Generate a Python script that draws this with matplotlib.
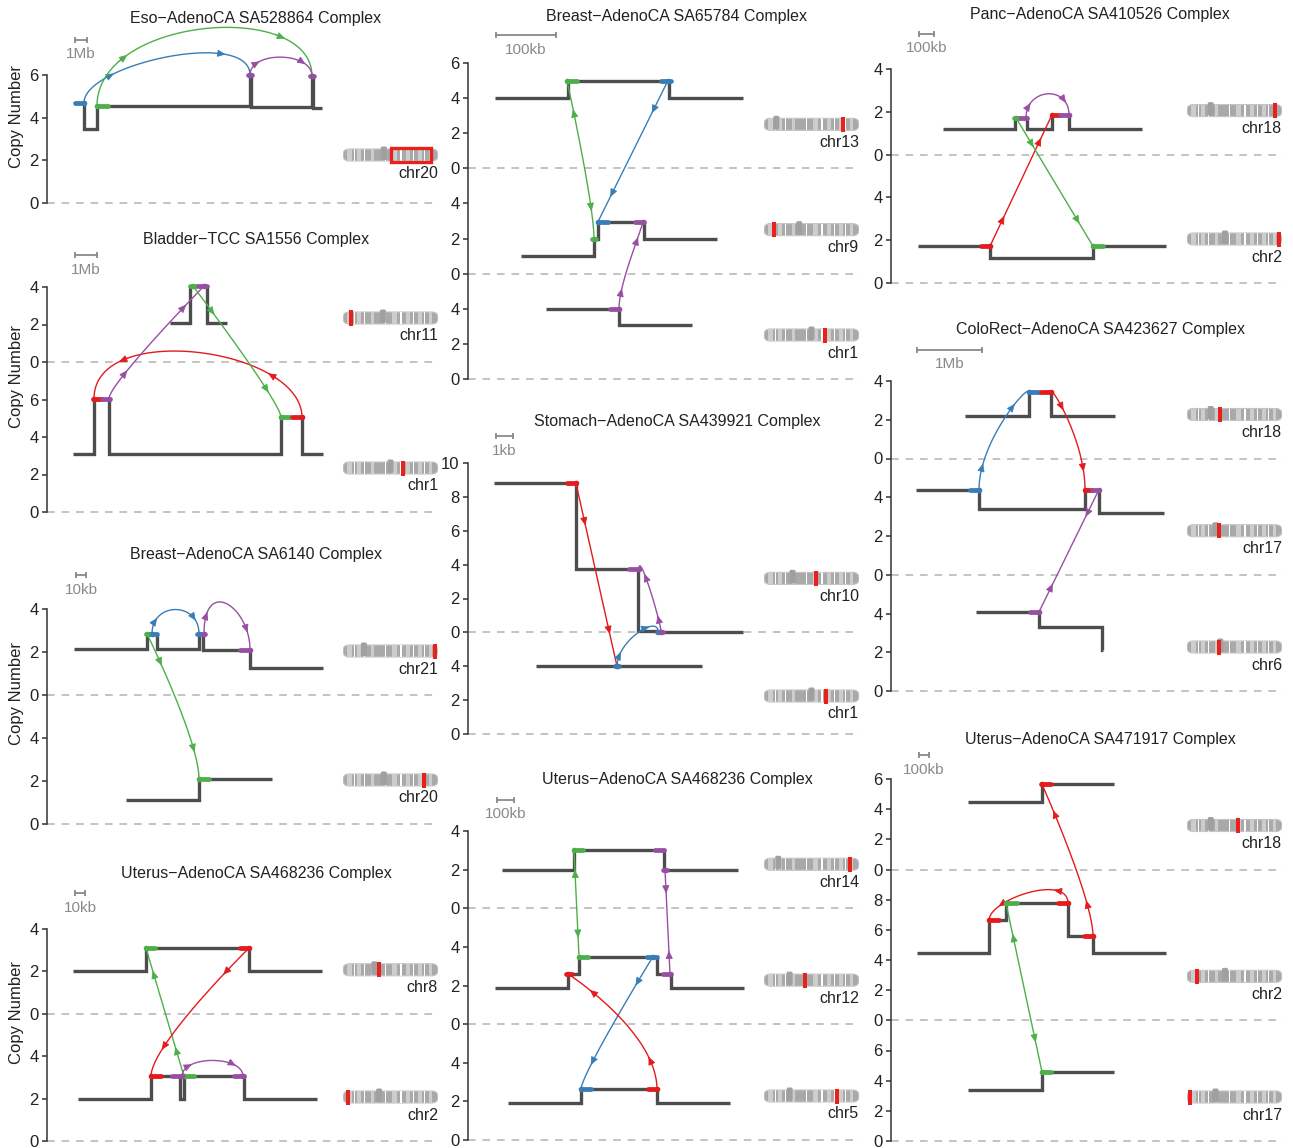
import numpy as np
import matplotlib.pyplot as plt
from matplotlib.patches import FancyBboxPatch, Rectangle, FancyArrowPatch

plt.rcParams['font.family'] = ['Liberation Sans', 'DejaVu Sans']

W, H = 1293, 1148
COLORS = {'r': '#e41a1c', 'b': '#377eb8', 'g': '#4daf4a', 'p': '#984ea3'}
STEP = '#4d4d4d'

# ---------------- copy-number segments: boundaries (x) and copy number (cn) ----------------
# Eso-AdenoCA SA528864
eso_chr20_x = [28, 37, 50, 203, 204, 265, 266, 275]
eso_chr20_cn = [4.7, 3.45, 4.55, 6.0, 4.5, 5.95, 4.45]
eso_marks = [('chr20', 28, 37, 4.7, 'b'), ('chr20', 50, 61, 4.55, 'g'),
             ('chr20', 201, 205, 6.0, 'p'), ('chr20', 263, 267, 5.95, 'p')]
eso_links = [('chr20', 37, 4.7, 'chr20', 203, 6.0, 'b', 1.8, 2.2, (1, 1)),
             ('chr20', 50, 4.55, 'chr20', 265, 5.95, 'g', 4.2, 3.6, (1, 1)),
             ('chr20', 203, 6.0, 'chr20', 265, 5.95, 'p', 1.15, 1.15, (1, 1))]

# Bladder-TCC SA1556
bla_chr11_x = [123, 143, 160, 180]
bla_chr11_cn = [2.1, 4.05, 2.1]
bla_chr1_x = [26, 47, 62, 234, 255, 276]
bla_chr1_cn = [3.1, 6.05, 3.1, 5.05, 3.1]
bla_marks = [('chr11', 143, 150, 4.05, 'g'), ('chr11', 151, 160, 4.05, 'p'),
             ('chr1', 46, 55, 6.05, 'r'), ('chr1', 55, 63, 6.05, 'p'),
             ('chr1', 234, 243, 5.05, 'g'), ('chr1', 245, 255, 5.05, 'r')]
bla_links = [('chr1', 255, 5.05, 'chr1', 47, 6.05, 'r', 3.7, 4.2, (1, 1)),
             ('chr1', 62, 6.05, 'chr11', 157, 4.05, 'p', 0.8, 0.0, (1, 1)),
             ('chr11', 146, 4.05, 'chr1', 234, 5.05, 'g', 0.0, 0.8, (1, 1))]

# Breast-AdenoCA SA6140
b61_chr21_x = [27, 100, 110, 152, 156, 203, 276]
b61_chr21_cn = [2.15, 2.85, 2.15, 2.85, 2.1, 1.26]
b61_chr20_x = [79, 152, 225]
b61_chr20_cn = [1.12, 2.1]
b61_marks = [('chr21', 99, 102, 2.85, 'g'), ('chr21', 103, 110, 2.85, 'b'),
             ('chr21', 150, 153, 2.85, 'b'), ('chr21', 153, 158, 2.85, 'p'),
             ('chr21', 193, 203, 2.1, 'p'), ('chr20', 152, 162, 2.1, 'g')]
b61_links = [('chr21', 105, 2.85, 'chr21', 152, 2.85, 'b', 1.5, 1.5, (1, 1)),
             ('chr21', 157, 2.85, 'chr21', 203, 2.1, 'p', 2.7, 2.0, (1, 1)),
             ('chr21', 100, 2.85, 'chr20', 152, 2.1, 'g', 0.0, 1.8, (1, 1))]

# Uterus-AdenoCA SA468236 (10kb view)
u10_chr8_x = [26, 99, 202, 275]
u10_chr8_cn = [2.0, 3.1, 2.0]
u10_chr2_x = [31, 104, 133, 137, 197, 270]
u10_chr2_cn = [2.0, 3.05, 2.0, 3.05, 2.0]
u10_marks = [('chr8', 99, 108, 3.1, 'g'), ('chr8', 193, 202, 3.1, 'r'),
             ('chr2', 104, 114, 3.05, 'r'), ('chr2', 125, 134, 3.05, 'p'),
             ('chr2', 137, 147, 3.05, 'g'), ('chr2', 187, 197, 3.05, 'p')]
u10_links = [('chr2', 137, 3.05, 'chr8', 99, 3.1, 'g', 0.0, 0.0, (1, 1)),
             ('chr8', 202, 3.1, 'chr2', 104, 3.05, 'r', 0.0, 1.5, (1, 1)),
             ('chr2', 135, 3.05, 'chr2', 196, 3.05, 'p', 1.0, 1.0, (1, 1))]

# Breast-AdenoCA SA65784
b65_chr13_x = [27, 100, 201, 275]
b65_chr13_cn = [4.0, 5.0, 4.0]
b65_chr9_x = [53, 126, 130, 176, 249]
b65_chr9_cn = [1.0, 2.0, 2.96, 2.0]
b65_chr1_x = [78, 151, 224]
b65_chr1_cn = [4.0, 3.08]
b65_marks = [('chr13', 99, 109, 5.0, 'g'), ('chr13', 193, 203, 5.0, 'b'),
             ('chr9', 124, 128, 2.0, 'g'), ('chr9', 130, 140, 2.96, 'b'),
             ('chr9', 167, 176, 2.96, 'p'), ('chr1', 142, 151, 4.0, 'p')]
b65_links = [('chr13', 99, 5.0, 'chr9', 126, 2.0, 'g', 0.0, 2.0, (-1, 1)),
             ('chr13', 200, 5.0, 'chr9', 130, 2.96, 'b', 0.0, 0.0, (1, 1)),
             ('chr1', 151, 4.0, 'chr9', 175, 2.96, 'p', 1.5, -0.3, (1, 1))]

# Stomach-AdenoCA SA439921
sto_chr10_x = [26, 108, 170, 191, 275]
sto_chr10_cn = [8.8, 3.72, 0.1, 0.0]
sto_chr1_x = [68, 234]
sto_chr1_cn = [4.0]
sto_marks = [('chr10', 99, 108, 8.8, 'r'), ('chr10', 161, 170, 3.72, 'p'),
             ('chr10', 189, 195, 0.05, 'p'), ('chr1', 147, 151, 4.0, 'b')]
sto_links = [('chr10', 108, 8.8, 'chr1', 149, 4.0, 'r', 0.0, 0.0, (1, 1)),
             ('chr1', 149, 4.0, 'chr10', 190, 0.05, 'b', 1.5, 1.0, (1, 1)),
             ('chr10', 193, 0.05, 'chr10', 171, 3.72, 'p', 0.5, 1.2, (1, 1))]

# Uterus-AdenoCA SA468236 (100kb view)
u100_chr14_x = [34, 106, 196, 270]
u100_chr14_cn = [2.0, 3.0, 1.97]
u100_chr12_x = [27, 100, 111, 189, 203, 276]
u100_chr12_cn = [1.85, 2.6, 3.5, 2.6, 1.85]
u100_chr5_x = [40, 113, 189, 262]
u100_chr5_cn = [1.9, 2.62, 1.9]
u100_marks = [('chr14', 106, 115, 3.0, 'g'), ('chr14', 187, 196, 3.0, 'p'),
              ('chr14', 195, 199, 2.0, 'p'), ('chr12', 98, 104, 2.6, 'r'),
              ('chr12', 111, 120, 3.5, 'g'), ('chr12', 179, 189, 3.5, 'b'),
              ('chr12', 195, 203, 2.6, 'p'), ('chr5', 113, 123, 2.62, 'b'),
              ('chr5', 180, 189, 2.62, 'r')]
u100_links = [('chr14', 106, 3.0, 'chr12', 111, 3.5, 'g', 0.0, 0.0, (-1, 1)),
              ('chr14', 197, 2.0, 'chr12', 202, 2.6, 'p', 0.0, 0.0, (1, -1)),
              ('chr12', 185, 3.5, 'chr5', 113, 2.62, 'b', 0.0, 0.8, (1, 1)),
              ('chr5', 189, 2.62, 'chr12', 100, 2.6, 'r', 3.0, 0.0, (1, 1))]

# Panc-AdenoCA SA410526
pan_chr18_x = [52, 124, 136, 161, 178, 251]
pan_chr18_cn = [1.2, 1.72, 1.2, 1.86, 1.2]
pan_chr2_x = [27, 99, 202, 275]
pan_chr2_cn = [1.72, 1.16, 1.72]
pan_marks = [('chr18', 123, 127, 1.72, 'g'), ('chr18', 128, 136, 1.72, 'p'),
             ('chr18', 161, 169, 1.86, 'r'), ('chr18', 169, 178, 1.86, 'p'),
             ('chr2', 90, 99, 1.72, 'r'), ('chr2', 202, 212, 1.72, 'g')]
pan_links = [('chr18', 135, 1.72, 'chr18', 178, 1.86, 'p', 1.4, 1.4, (1, 1)),
             ('chr2', 99, 1.72, 'chr18', 161, 1.86, 'r', 0.0, 0.0, (1, 1)),
             ('chr18', 125, 1.72, 'chr2', 202, 1.72, 'g', 0.0, 0.0, (1, 1))]

# ColoRect-AdenoCA SA423627
col_chr18_x = [74, 138, 160, 224]
col_chr18_cn = [2.18, 3.42, 2.18]
col_chr17_x = [25, 88, 194, 208, 273]
col_chr17_cn = [4.4, 3.38, 4.4, 3.18]
col_chr6_x = [85, 148, 211, 212]
col_chr6_cn = [4.08, 3.3, 2.1]
col_marks = [('chr18', 138, 148, 3.42, 'b'), ('chr18', 150, 160, 3.42, 'r'),
             ('chr17', 79, 88, 4.4, 'b'), ('chr17', 194, 201, 4.4, 'r'),
             ('chr17', 201, 208, 4.4, 'p'), ('chr6', 139, 148, 4.08, 'p')]
col_links = [('chr17', 88, 4.4, 'chr18', 138, 3.42, 'b', 2.5, 0.5, (1, 1)),
             ('chr18', 160, 3.42, 'chr17', 194, 4.4, 'r', 0.4, 2.5, (1, 1)),
             ('chr6', 148, 4.08, 'chr17', 208, 4.4, 'p', 0.0, 0.0, (1, -1))]

# Uterus-AdenoCA SA471917
u47_chr18_x = [77, 151, 223]
u47_chr18_cn = [4.45, 5.65]
u47_chr2_x = [26, 98, 115, 177, 202, 275]
u47_chr2_cn = [4.45, 6.63, 7.76, 5.57, 4.45]
u47_chr17_x = [77, 151, 223]
u47_chr17_cn = [3.38, 4.58]
u47_marks = [('chr18', 150, 160, 5.65, 'r'), ('chr2', 98, 108, 6.63, 'r'),
             ('chr2', 115, 126, 7.76, 'g'), ('chr2', 167, 177, 7.76, 'r'),
             ('chr2', 193, 202, 5.57, 'r'), ('chr17', 151, 160, 4.58, 'g')]
u47_links = [('chr2', 202, 5.57, 'chr18', 151, 5.65, 'r', 2.5, 0.0, (1, 1)),
             ('chr2', 177, 7.76, 'chr2', 98, 6.63, 'r', 2.0, 1.4, (1, 1)),
             ('chr2', 115, 7.76, 'chr17', 151, 4.58, 'g', 0.0, 0.0, (-1, 1))]

# ideogram: (centromere fraction, highlighted position fraction or span)
panels = [
    dict(title='Eso\u2212AdenoCA SA528864 Complex', scale='1Mb', bar=(28, 40),
         tracks=[('chr20', 6, eso_chr20_x, eso_chr20_cn, 0.43, (0.5, 0.93))],
         marks=eso_marks, links=eso_links,
         spine=47, top=75, bottom=203, title_y=17, bar_dy=35, ylabel=True,
         lift={'chr20': 48}),
    dict(title='Bladder\u2212TCC SA1556 Complex', scale='1Mb', bar=(28, 50),
         tracks=[('chr11', 4, bla_chr11_x, bla_chr11_cn, 0.42, 0.08),
                 ('chr1', 6, bla_chr1_x, bla_chr1_cn, 0.5, 0.63)],
         marks=bla_marks, links=bla_links,
         spine=47, top=287, bottom=512, title_y=238, bar_dy=32, ylabel=True),
    dict(title='Breast\u2212AdenoCA SA6140 Complex', scale='10kb', bar=(29, 39),
         tracks=[('chr21', 4, b61_chr21_x, b61_chr21_cn, 0.22, 0.98),
                 ('chr20', 4, b61_chr20_x, b61_chr20_cn, 0.43, 0.85)],
         marks=b61_marks, links=b61_links,
         spine=47, top=609, bottom=824, title_y=553, bar_dy=34, ylabel=True),
    dict(title='Uterus\u2212AdenoCA SA468236 Complex', scale='10kb', bar=(28, 38),
         tracks=[('chr8', 4, u10_chr8_x, u10_chr8_cn, 0.33, 0.38),
                 ('chr2', 4, u10_chr2_x, u10_chr2_cn, 0.38, 0.05)],
         marks=u10_marks, links=u10_links,
         spine=47, top=929, bottom=1141, title_y=872, bar_dy=36, ylabel=True),
    dict(title='Breast\u2212AdenoCA SA65784 Complex', scale='100kb', bar=(28, 88),
         tracks=[('chr13', 6, b65_chr13_x, b65_chr13_cn, 0.13, 0.83),
                 ('chr9', 4, b65_chr9_x, b65_chr9_cn, 0.37, 0.11),
                 ('chr1', 4, b65_chr1_x, b65_chr1_cn, 0.5, 0.64)],
         marks=b65_marks, links=b65_links,
         spine=468, top=63, bottom=379, title_y=15, bar_dy=28, ylabel=False),
    dict(title='Stomach\u2212AdenoCA SA439921 Complex', scale='1kb', bar=(28, 45),
         tracks=[('chr10', 10, sto_chr10_x, sto_chr10_cn, 0.3, 0.55),
                 ('chr1', 4, sto_chr1_x, sto_chr1_cn, 0.5, 0.65)],
         marks=sto_marks, links=sto_links,
         spine=468, top=463, bottom=734, title_y=420, bar_dy=27, ylabel=False,
         lift={'chr10': 54, 'chr1': 38}),
    dict(title='Uterus\u2212AdenoCA SA468236 Complex', scale='100kb', bar=(29, 46),
         tracks=[('chr14', 4, u100_chr14_x, u100_chr14_cn, 0.15, 0.9),
                 ('chr12', 4, u100_chr12_x, u100_chr12_cn, 0.27, 0.43),
                 ('chr5', 4, u100_chr5_x, u100_chr5_cn, 0.27, 0.77)],
         marks=u100_marks, links=u100_links,
         spine=468, top=831, bottom=1140, title_y=778, bar_dy=31, ylabel=False),
    dict(title='Panc\u2212AdenoCA SA410526 Complex', scale='100kb', bar=(28, 43),
         tracks=[('chr18', 4, pan_chr18_x, pan_chr18_cn, 0.25, 0.93),
                 ('chr2', 4, pan_chr2_x, pan_chr2_cn, 0.4, 0.98)],
         marks=pan_marks, links=pan_links,
         spine=891, top=69, bottom=283, title_y=13, bar_dy=35, ylabel=False),
    dict(title='ColoRect\u2212AdenoCA SA423627 Complex', scale='1Mb', bar=(26, 91),
         tracks=[('chr18', 4, col_chr18_x, col_chr18_cn, 0.25, 0.35),
                 ('chr17', 4, col_chr17_x, col_chr17_cn, 0.3, 0.34),
                 ('chr6', 4, col_chr6_x, col_chr6_cn, 0.35, 0.34)],
         marks=col_marks, links=col_links,
         spine=891, top=381, bottom=691, title_y=328, bar_dy=31, ylabel=False),
    dict(title='Uterus\u2212AdenoCA SA471917 Complex', scale='100kb', bar=(28, 38),
         tracks=[('chr18', 6, u47_chr18_x, u47_chr18_cn, 0.25, 0.54),
                 ('chr2', 8, u47_chr2_x, u47_chr2_cn, 0.4, 0.11),
                 ('chr17', 6, u47_chr17_x, u47_chr17_cn, 0.3, 0.03)],
         marks=u47_marks, links=u47_links,
         spine=891, top=779, bottom=1141, title_y=738, bar_dy=24, ylabel=False),
]

LIGHT = [(0.04, 0.09), (0.15, 0.19), (0.29, 0.33), (0.52, 0.57), (0.66, 0.7), (0.79, 0.83), (0.9, 0.94)]
WHITE = [0.12, 0.23, 0.45, 0.61, 0.74, 0.86]
GAP = 2
XMAX = 392

fig = plt.figure(figsize=(W / 100, H / 100), dpi=100)


def bezier(p0, c1, c2, p1, t):
    t = np.asarray(t)[:, None]
    return ((1 - t) ** 3) * p0 + 3 * ((1 - t) ** 2) * t * c1 + 3 * (1 - t) * t ** 2 * c2 + t ** 3 * p1


def ideogram(x_px, yc_px, cen, hl, name):
    w, h = 95, 12
    iax = fig.add_axes([x_px / W, (yc_px - 12) / H, w / W, 24 / H])
    iax.set_xlim(0, w)
    iax.set_ylim(-12, 12)
    iax.axis('off')
    body = FancyBboxPatch((0, -h / 2), w, h, boxstyle='round,pad=0,rounding_size=6',
                          fc='#a9a9a9', ec='#c4c4c4', lw=0.8)
    iax.add_patch(body)
    for a, b in LIGHT:
        r = Rectangle((a * w, -h / 2), (b - a) * w, h, fc='#cdcdcd', ec='none')
        iax.add_patch(r)
        r.set_clip_path(body)
    for s in WHITE:
        r = Rectangle((s * w - 0.6, -h / 2), 1.2, h, fc='white', ec='none')
        iax.add_patch(r)
        r.set_clip_path(body)
    iax.add_patch(FancyBboxPatch((cen * w - 3, -h / 2 + 1), 6, h + 1.5,
                                 boxstyle='round,pad=0,rounding_size=1.5', fc='#a0a0a0', ec='none'))
    if isinstance(hl, tuple):
        iax.add_patch(Rectangle((hl[0] * w, -h / 2 - 0.5), (hl[1] - hl[0]) * w, h + 1,
                                fill=False, ec='#e8211d', lw=2.4))
    else:
        iax.add_patch(Rectangle((min(hl * w, w - 3) - 2, -h / 2 - 1.5), 4, h + 3,
                                fc='#e8211d', ec='none'))
    fig.text((x_px + w) / W, (yc_px - 18) / H, name, ha='right', va='center',
             fontsize=11.5, color='#222222')


for pn in panels:
    tracks = pn['tracks']
    total = sum(t[1] for t in tracks) + GAP * (len(tracks) - 1)
    offs = {}
    o = 0
    for t in reversed(tracks):
        offs[t[0]] = o
        o += t[1] + GAP
    height_px = pn['bottom'] - pn['top']
    ppu = height_px / total
    ax = fig.add_axes([pn['spine'] / W, (H - pn['bottom']) / H, XMAX / W, height_px / H])
    ax.set_xlim(0, XMAX)
    ax.set_ylim(0, total)
    for s in ['top', 'right', 'bottom']:
        ax.spines[s].set_visible(False)
    ax.spines['left'].set_color('#333333')
    ax.spines['left'].set_linewidth(1.1)
    ax.set_xticks([])

    ticks, labels = [], []
    for name, ymax, xs, cn, cen, hl in tracks:
        off = offs[name]
        for v in range(0, ymax + 1, 2):
            ticks.append(off + v)
            labels.append(str(v))
        ax.plot([0, XMAX], [off, off], color='#b3b3b3', lw=1.1, ls=(0, (5, 4.5)), clip_on=False, zorder=1)
        ax.stairs(np.array(cn) + off, xs, baseline=None, color=STEP, lw=2.4, zorder=3)
        lift = pn.get('lift', {}).get(name, 44)
        yc = (H - pn['bottom']) + off * ppu + lift
        ideogram(pn['spine'] + 296, yc, cen, hl, name)
    ax.set_yticks(ticks)
    ax.set_yticklabels(labels)
    ax.tick_params(axis='y', length=3.6, width=1.1, color='#333333', labelsize=12,
                   labelcolor='#222222', pad=2.5)

    # breakpoint segments
    for name, x0, x1, c, col in pn['marks']:
        ax.plot([x0, x1], [c + offs[name]] * 2, color=COLORS[col], lw=3.4,
                solid_capstyle='round', zorder=5, clip_on=False)

    # rearrangement links with direction arrows
    for ta, xa, ca, tb, xb, cb, col, h0, h1, dirs in pn['links']:
        p0 = np.array([xa, ca + offs[ta]])
        p1 = np.array([xb, cb + offs[tb]])
        c1 = p0 + [0, h0]
        c2 = p1 + [0, h1]
        tt = np.linspace(0, 1, 200)
        pts = bezier(p0, c1, c2, p1, tt)
        ax.plot(pts[:, 0], pts[:, 1], color=COLORS[col], lw=1.0, zorder=4, clip_on=False)
        disp = ax.transData.transform(pts)
        seg = np.hypot(*np.diff(disp, axis=0).T)
        arc = np.concatenate([[0], np.cumsum(seg)])
        arc /= arc[-1]
        for frac, d in zip((0.2, 0.8), dirs):
            i = int(np.searchsorted(arc, frac))
            i = min(max(i, 4), len(pts) - 5)
            a, b = pts[i - 4], pts[i + 4]
            if d < 0:
                a, b = b, a
            ax.add_patch(FancyArrowPatch(a, b, arrowstyle='-|>,head_length=0.5,head_width=0.22',
                                         mutation_scale=10, color=COLORS[col], lw=0.6,
                                         shrinkA=0, shrinkB=0, zorder=4, clip_on=False))
        ax.plot([p0[0], p1[0]], [p0[1], p1[1]], ls='none', marker='o', ms=3,
                color=COLORS[col], zorder=5, clip_on=False)

    # scale bar
    ybar = total + pn['bar_dy'] / ppu
    ax.plot(pn['bar'], [ybar, ybar], color='#8a8a8a', lw=1.3, clip_on=False,
            marker='|', ms=5, mew=1.3)
    ax.text(np.mean(pn['bar']), ybar - 14.5 / ppu, pn['scale'], ha='center', va='center',
            fontsize=11, color='#8a8a8a', clip_on=False)

    fig.text((pn['spine'] + 209) / W, (H - pn['title_y'] - 1.5) / H, pn['title'],
             ha='center', va='center', fontsize=11.5, color='#222222')
    if pn['ylabel']:
        ymid = (pn['top'] + pn['bottom']) / 2 - 23
        fig.text(17 / W, (H - ymid) / H, 'Copy Number', rotation=90,
                 ha='center', va='center', fontsize=12, color='#222222')

fig.savefig('out.png', dpi=100)
